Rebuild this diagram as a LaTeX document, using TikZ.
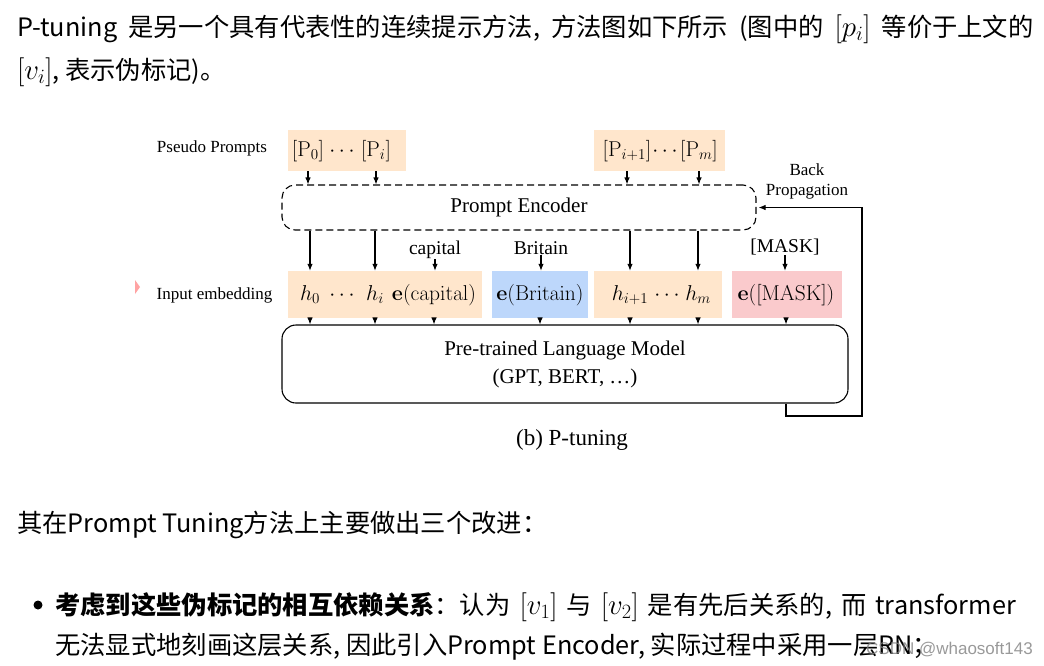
\RequirePackage{fix-cm}
\documentclass[tikz,border=0pt]{standalone}
\usepackage[no-math]{fontspec}
\setmainfont{Liberation Serif}
\newfontfamily\cjk{Noto Sans CJK SC}
\newfontfamily\wmfont{Liberation Sans}
\usetikzlibrary{arrows.meta, positioning}
\definecolor{peach}{HTML}{FFE6CC}
\definecolor{skyblue}{HTML}{BDD7FB}
\definecolor{rosepink}{HTML}{FACACC}
\newcommand\inlinemath[1]{{\fontsize{29}{30}\selectfont$#1$}}
\newcommand\widespaces{\spaceskip=11pt\relax}
\newcommand\midspaces{\spaceskip=9pt\relax}

\begin{document}
\begin{tikzpicture}[x=1pt, y=-1pt,
    lbl/.style={font=\fontsize{19.5}{22}\selectfont, inner sep=0pt},
    side/.style={font=\fontsize{17}{20}\selectfont, inner sep=0pt},
    mth/.style={font=\fontsize{21.5}{24}\selectfont, inner sep=0pt, anchor=base},
    body/.style={font=\cjk\fontsize{25.3}{30}\selectfont, inner sep=0pt, anchor=base west},
    widebody/.style={body, font=\cjk\fontsize{25.3}{30}\selectfont\widespaces},
    midbody/.style={body, font=\cjk\fontsize{25.3}{30}\selectfont\midspaces},
    fillbox/.style={rectangle, inner sep=0pt, minimum height=47pt},
    arrow/.style={line width=1.1pt, -{Latex[length=7pt, width=5.5pt]}}
]
\useasboundingbox (0,0) rectangle (1044,665);
\fill[white] (0,0) rectangle (1044,665);

% text above the figure
\node (line1) [widebody] at (17,36.5) {P-tuning 是另一个具有代表性的连续提示方法, 方法图如下所示 (图中的 \inlinemath{[p_i]} 等价于上文的};
\node (line2) [body] at (17,79.5) {\inlinemath{[v_i]}, 表示伪标记)。};

% pseudo prompts
\node (pseudo) [side] at (212,148) {Pseudo Prompts};
\node (promptA) [fillbox, fill=peach, minimum width=118pt, minimum height=41pt] at (347,150.5) {};
\node (promptB) [fillbox, fill=peach, minimum width=131pt, minimum height=41pt] at (659.5,150.5) {};
\node (p0) [mth] at (308,156) {$[\mathrm{P}_0]$};
\node (pdots) [mth] at (342,156) {$\cdots$};
\node (pi) [mth] at (376,156) {$[\mathrm{P}_i]$};
\node (pi1) [mth] at (627,156) {$[\mathrm{P}_{i+1}]$};
\node (pdots2) [mth] at (665,156) {$\cdots$};
\node (pm) [mth] at (699,156) {$[\mathrm{P}_m]$};

% encoder
\node (encoder) [rectangle, draw, dash pattern=on 7pt off 4pt, line width=1.1pt, rounded corners=13pt,
    minimum width=474pt, minimum height=45pt, font=\fontsize{21}{24}\selectfont] at (519,207.5) {Prompt Encoder};
\node (back) [side, align=center] at (807,181) {Back\\Propagation};

% input embedding
\node (inemb) [side] at (214.5,295) {Input embedding};
\node (embA) [fillbox, fill=peach, minimum width=194pt] at (385,294.5) {};
\node (embB) [fillbox, fill=skyblue, minimum width=96pt] at (540,294.5) {};
\node (embC) [fillbox, fill=peach, minimum width=128pt] at (658,294.5) {};
\node (embD) [fillbox, fill=rosepink, minimum width=110pt] at (787,294.5) {};
\node (h0) [mth] at (310,300) {$h_0$};
\node (hdots) [mth] at (342,300) {$\cdots$};
\node (hi) [mth] at (375,300) {$h_i$};
\node (ecap) [mth] at (434,300) {$\mathbf{e}(\mathrm{capital})$};
\node (ebri) [mth] at (540,300) {$\mathbf{e}(\mathrm{Britain})$};
\node (hi1) [mth] at (630,300) {$h_{i+1}$};
\node (hdots2) [mth] at (667,300) {$\cdots$};
\node (hm) [mth] at (698,300) {$h_m$};
\node (emask) [mth] at (786,300) {$\mathbf{e}([\mathrm{MASK}])$};

\node (capital) [lbl] at (435,250) {capital};
\node (britain) [lbl] at (541,248) {Britain};
\node (mask) [lbl] at (785,247) {[MASK]};

% language model
\node (plm) [rectangle, draw, line width=1.1pt, rounded corners=14pt, minimum width=566pt, minimum height=78pt,
    align=center, font=\fontsize{21}{28}\selectfont] at (565,364) {Pre-trained Language Model\\(GPT, BERT, …)};
\node (caption) [font=\fontsize{23}{26}\selectfont] at (572,440) {(b) P-tuning};

% connectors
\foreach \tok in {p0, pi, pi1, pm}
  \draw [arrow] (\tok |- promptA.south) -- (\tok |- encoder.north);
\foreach \tok in {h0, hi, hi1, hm}
  \draw [arrow] (\tok |- encoder.south) -- (\tok |- embA.north);
\foreach \word in {capital, britain, mask}
  \draw [arrow] (\word.south) -- (\word |- embA.north);
\foreach \tok in {h0, hi, ecap, ebri, hi1, hm, emask}
  \draw [arrow] (\tok |- embA.south) -- (\tok |- plm.north);

\coordinate (loop) at (862,416);
\draw [arrow, shorten >=2pt] (emask |- plm.south) |- (loop) |- (encoder.east);

% stray mark
\fill [red!60, opacity=0.6] (135,280) -- (140,287) -- (135,294) -- cycle;

% text below the figure
\node (line3) [body] at (17,532.5) {其在Prompt Tuning方法上主要做出三个改进：};
\node (bullet) [circle, fill, inner sep=0pt, minimum size=9pt] at (38,605) {};
\node (line4) [midbody] at (55,614) {{\bfseries 考虑到这些伪标记的相互依赖关系}：认为 \inlinemath{[v_1]} 与 \inlinemath{[v_2]} 是有先后关系的, 而 transformer};
\node (line5) [body] at (55,654) {无法显式地刻画这层关系, 因此引入Prompt Encoder, 实际过程中采用一层RN；};
\node (mark) [font=\wmfont\fontsize{17}{20}\selectfont, text=gray, opacity=0.8, anchor=base west, inner sep=0pt] at (866,654) {CSDN @whaosoft143};
\end{tikzpicture}
\end{document}
